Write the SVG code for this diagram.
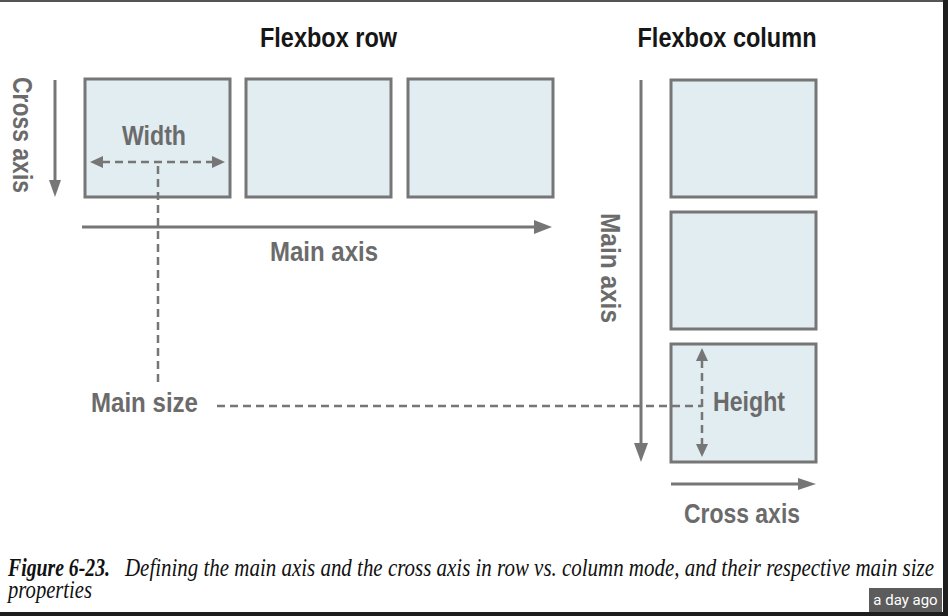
<svg xmlns="http://www.w3.org/2000/svg" width="948" height="616" viewBox="0 0 948 616">
<defs>
<style>
.box{fill:#e1edf1;stroke:#767676;stroke-width:3}
.ax{stroke:#767676;stroke-width:3;fill:none}
.dash{stroke:#767676;stroke-width:2.5;fill:none;stroke-dasharray:8 5}
.head{fill:#767676}
.lbl{font-family:"Liberation Sans",Arial,sans-serif;font-weight:bold;font-size:28px;fill:#6b6b6b}
.ttl{font-family:"Liberation Sans",Arial,sans-serif;font-weight:bold;font-size:28px;fill:#161616}
.cap{font-family:"Liberation Serif","DejaVu Serif",serif;font-style:italic;font-size:25px;fill:#111}
</style>
</defs>
<rect x="0" y="0" width="948" height="616" fill="#ffffff"/>
<rect x="0" y="0" width="948" height="2" fill="#555"/>
<rect x="943" y="0" width="5" height="616" fill="#1e1e1e"/>
<rect x="0" y="612" width="948" height="4" fill="#1e1e1e"/>

<text class="ttl" x="328.5" y="47" text-anchor="middle" textLength="137" lengthAdjust="spacingAndGlyphs">Flexbox row</text>
<text class="ttl" x="727" y="47" text-anchor="middle" textLength="179" lengthAdjust="spacingAndGlyphs">Flexbox column</text>

<g id="row-item-1"><rect class="box" x="85" y="79" width="145" height="118"/><text class="lbl" x="154" y="145" text-anchor="middle" textLength="64" lengthAdjust="spacingAndGlyphs">Width</text></g>
<g id="row-item-2"><rect class="box" x="246" y="79" width="145" height="118"/></g>
<g id="row-item-3"><rect class="box" x="408" y="79" width="145" height="118"/></g>

<g id="col-item-1"><rect class="box" x="671" y="80" width="145" height="117"/></g>
<g id="col-item-2"><rect class="box" x="671" y="212" width="145" height="117"/></g>
<g id="col-item-3"><rect class="box" x="671" y="344" width="145" height="118"/><text class="lbl" x="713" y="411" textLength="72" lengthAdjust="spacingAndGlyphs">Height</text></g>

<g id="labels">
<text class="lbl" transform="translate(13,135) rotate(90)" text-anchor="middle" textLength="116" lengthAdjust="spacingAndGlyphs">Cross axis</text>
<text class="lbl" x="324" y="261" text-anchor="middle" textLength="108" lengthAdjust="spacingAndGlyphs">Main axis</text>
<text class="lbl" x="91" y="412" textLength="107" lengthAdjust="spacingAndGlyphs">Main size</text>
<text class="lbl" transform="translate(601,268) rotate(90)" text-anchor="middle" textLength="110" lengthAdjust="spacingAndGlyphs">Main axis</text>
<text class="lbl" x="684" y="523" textLength="116" lengthAdjust="spacingAndGlyphs">Cross axis</text>
</g>

<g id="connectors">
<line class="ax" x1="55" y1="80" x2="55" y2="184"/>
<polygon class="head" points="55,197 49,180 61,180"/>
<line class="ax" x1="82" y1="227" x2="538" y2="227"/>
<polygon class="head" points="552,227 534,220 534,234"/>
<line class="dash" x1="102" y1="162" x2="213" y2="162"/>
<polygon class="head" points="90,162 103,156 103,168"/>
<polygon class="head" points="225,162 212,156 212,168"/>
<line class="dash" x1="158" y1="166" x2="158" y2="382"/>
<line class="ax" x1="641" y1="80" x2="641" y2="446"/>
<polygon class="head" points="641,462 634,443 648,443"/>
<line class="dash" x1="217" y1="406" x2="702" y2="406"/>
<line class="dash" x1="702" y1="360" x2="702" y2="445"/>
<polygon class="head" points="702,348 696,361 708,361"/>
<polygon class="head" points="702,457 696,444 708,444"/>
<line class="ax" x1="671" y1="484" x2="802" y2="484"/>
<polygon class="head" points="816,484 798,478 798,490"/>
</g>

<g id="caption">
<text class="cap" x="8" y="576" font-weight="bold" textLength="102" lengthAdjust="spacingAndGlyphs">Figure 6-23.</text>
<text class="cap" x="125" y="576" textLength="809" lengthAdjust="spacingAndGlyphs">Defining the main axis and the cross axis in row vs. column mode, and their respective main size</text>
<text class="cap" x="8" y="598" textLength="84" lengthAdjust="spacingAndGlyphs">properties</text>
</g>

<rect x="869" y="588" width="73" height="24" fill="#5c5c5c"/>
<text x="905.5" y="605" text-anchor="middle" font-family="Roboto,'Liberation Sans',sans-serif" font-size="15" fill="#ffffff">a day ago</text>
</svg>
